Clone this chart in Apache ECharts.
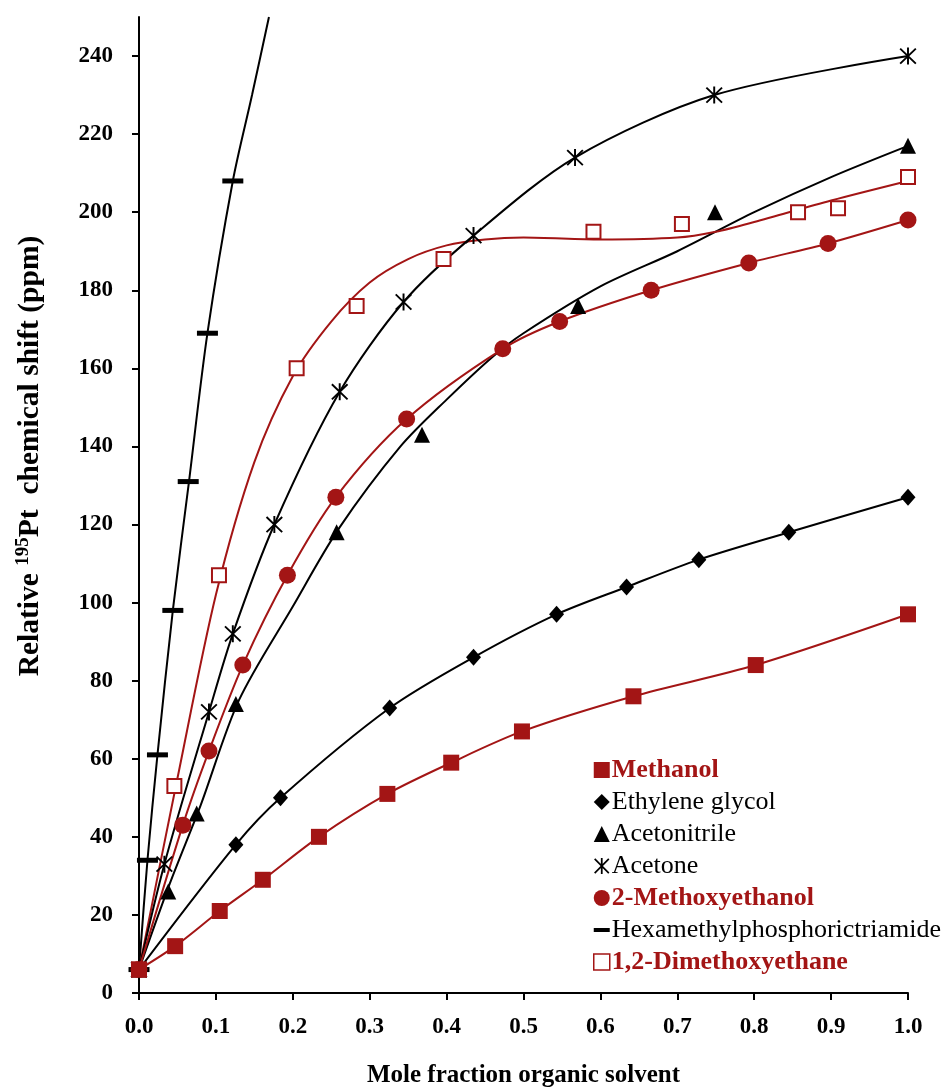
<!DOCTYPE html>
<html>
<head>
<meta charset="utf-8">
<script src="https://cdn.jsdelivr.net/npm/echarts@6/dist/echarts.min.js"></script>
<style>
html,body{margin:0;padding:0;background:#fff;}
#chart{width:951px;height:1088px;}
</style>
</head>
<body>
<div id="chart"></div>
<script>
// ---- data ----
const xTicks = [0, 0.1, 0.2, 0.3, 0.4, 0.5, 0.6, 0.7, 0.8, 0.9, 1.0];
const yTicks = [0, 20, 40, 60, 80, 100, 120, 140, 160, 180, 200, 220, 240];

const methanolX = [0, 0.047, 0.105, 0.161, 0.234, 0.323, 0.406, 0.498, 0.643, 0.802, 1.0];
const methanolY = [6, 12, 21, 29, 40, 51, 59, 67, 76, 84, 97];

const glycolX = [0, 0.126, 0.184, 0.326, 0.435, 0.543, 0.634, 0.728, 0.845, 1.0];
const glycolY = [6, 38, 50, 73, 86, 97, 104, 111, 118, 127];

const acetonitrileX = [0, 0.038, 0.075, 0.126, 0.257, 0.368, 0.571, 0.749, 1.0];
const acetonitrileY = [6, 26, 46, 74, 118, 143, 176, 200, 217];
const acetonitrileFitX = [0, 0.04, 0.08, 0.13, 0.2, 0.26, 0.34, 0.4, 0.46, 0.5, 0.6, 0.7, 0.8, 0.9, 1.0];
const acetonitrileFitY = [6, 28, 48, 75, 99, 119, 140, 152, 163, 169, 181, 190, 200, 209, 217];

const acetoneX = [0, 0.033, 0.091, 0.122, 0.176, 0.261, 0.344, 0.435, 0.567, 0.748, 1.0];
const acetoneY = [6, 33, 72, 92, 120, 154, 177, 194, 214, 230, 240];

const methoxyX = [0, 0.057, 0.091, 0.135, 0.193, 0.256, 0.348, 0.473, 0.547, 0.666, 0.793, 0.896, 1.0];
const methoxyY = [6, 43, 62, 84, 107, 127, 147, 165, 172, 180, 187, 192, 198];

const hmpaX = [0, 0.011, 0.024, 0.044, 0.064, 0.089, 0.122];
const hmpaY = [6, 34, 61, 98, 131, 169, 208];
const hmpaFitX = [0, 0.011, 0.024, 0.044, 0.065, 0.089, 0.122, 0.147, 0.169];
const hmpaFitY = [6, 34, 61, 98, 131, 169, 208, 230, 250];

const dmeX = [0, 0.046, 0.104, 0.205, 0.283, 0.396, 0.591, 0.706, 0.857, 0.909, 1.0];
const dmeY = [6, 53, 107, 160, 176, 188, 195, 197, 200, 201, 209];
const dmeFitX = [0, 0.05, 0.1, 0.15, 0.2, 0.25, 0.3, 0.35, 0.4, 0.45, 0.5, 0.6, 0.7, 0.75, 0.8, 0.9, 1.0];
const dmeFitY = [6, 55, 102, 136, 158, 172, 182, 188, 191.5, 193, 193.5, 193, 193.5, 195, 197.5, 203, 208];

// ---- styling ----
const RED = '#a31515';
const BLACK = '#000';
const FONT = 'Liberation Serif';
const ASTERISK = 'path://M8.9,0 L11.1,0 L11.1,20 L8.9,20 Z M0.4,1.9 L1.9,0.4 L19.6,18.1 L18.1,19.6 Z M18.1,0.4 L19.6,1.9 L1.9,19.6 L0.4,18.1 Z';
const DASH = 'path://M0,0 L20,0 L20,5 L0,5 Z';

const pts = (xs, ys) => xs.map((x, i) => [x, ys[i]]);

const chart = echarts.init(document.getElementById('chart'), null, {renderer: 'canvas'});

const legendText = (red) => red
  ? {color: RED, fontWeight: 'bold', fontFamily: FONT, fontSize: 26}
  : {color: '#000', fontWeight: 'normal', fontFamily: FONT, fontSize: 26};

const option = {
  backgroundColor: '#fff',
  animation: false,
  grid: {left: 139, right: 43, top: 17, bottom: 95, containLabel: false, outerBoundsMode: 'none'},
  xAxis: {
    type: 'value', min: 0, max: 1, interval: 0.1,
    name: 'Mole fraction organic solvent',
    nameLocation: 'middle', nameGap: 70,
    nameTextStyle: {fontFamily: FONT, fontWeight: 'bold', fontSize: 25, color: '#000'},
    axisLine: {show: true, lineStyle: {color: '#000', width: 2}},
    axisTick: {show: true, inside: false, length: 7, lineStyle: {color: '#000', width: 2}, customValues: xTicks},
    axisLabel: {fontFamily: FONT, fontWeight: 'bold', fontSize: 23, color: '#000', margin: 23,
      customValues: xTicks, formatter: v => v.toFixed(1)},
    splitLine: {show: false}
  },
  yAxis: {
    type: 'value', min: 0, max: 250,
    axisLine: {show: true, lineStyle: {color: '#000', width: 2}},
    axisTick: {show: true, inside: false, length: 7, lineStyle: {color: '#000', width: 2}, customValues: yTicks},
    axisLabel: {fontFamily: FONT, fontWeight: 'bold', fontSize: 23, color: '#000', margin: 26,
      customValues: yTicks},
    splitLine: {show: false}
  },
  graphic: [{
    type: 'text', x: 30, y: 456, rotation: Math.PI / 2,
    style: {
      text: '{b|Relative }{s|195}{b|Pt  chemical shift (ppm)}',
      align: 'center', verticalAlign: 'middle',
      rich: {
        b: {fontFamily: FONT, fontWeight: 'bold', fontSize: 29.5, fill: '#000', lineHeight: 34},
        s: {fontFamily: FONT, fontWeight: 'bold', fontSize: 19, fill: '#000', lineHeight: 34, padding: [0, 0, 13, 0]}
      }
    }
  }],
  legend: {
    orient: 'vertical', left: 588, top: 752,
    itemWidth: 16, itemHeight: 16, itemGap: 6,
    selectedMode: false,
    textStyle: {fontFamily: FONT, fontSize: 26, color: '#000', padding: [0, 0, 0, -3]},
    data: [
      {name: 'Methanol', icon: 'rect', itemStyle: {color: RED, borderWidth: 0, opacity: 1}, textStyle: legendText(true)},
      {name: 'Ethylene glycol', icon: 'diamond', itemStyle: {color: BLACK, borderWidth: 0, opacity: 1}, textStyle: legendText(false)},
      {name: 'Acetonitrile', icon: 'triangle', itemStyle: {color: BLACK, borderWidth: 0, opacity: 1}, textStyle: legendText(false)},
      {name: 'Acetone', icon: ASTERISK, itemStyle: {color: BLACK, borderWidth: 0, opacity: 1}, textStyle: legendText(false)},
      {name: '2-Methoxyethanol', icon: 'circle', itemStyle: {color: RED, borderWidth: 0, opacity: 1}, textStyle: legendText(true)},
      {name: 'Hexamethylphosphorictriamide', icon: DASH, itemStyle: {color: BLACK, borderWidth: 0, opacity: 1}, textStyle: legendText(false)},
      {name: '1,2-Dimethoxyethane', icon: 'rect', itemStyle: {color: '#fff', borderColor: RED, borderWidth: 1.5, opacity: 1}, textStyle: legendText(true)}
    ]
  },
  series: [
    {
      name: 'Hexamethylphosphorictriamide fit', type: 'line', data: pts(hmpaFitX, hmpaFitY),
      smooth: 0.3, showSymbol: false, symbol: 'none',
      lineStyle: {color: BLACK, width: 2}, z: 2
    },
    {
      name: 'Hexamethylphosphorictriamide', type: 'scatter', data: pts(hmpaX, hmpaY),
      symbol: DASH, symbolSize: [21, 5], itemStyle: {color: BLACK, opacity: 1}, z: 3
    },
    {
      name: 'Acetonitrile fit', type: 'line', data: pts(acetonitrileFitX, acetonitrileFitY),
      smooth: 0.3, showSymbol: false, symbol: 'none',
      lineStyle: {color: BLACK, width: 2}, z: 2
    },
    {
      name: 'Acetonitrile', type: 'scatter', data: pts(acetonitrileX, acetonitrileY),
      symbol: 'triangle', symbolSize: 16, itemStyle: {color: BLACK, opacity: 1}, z: 3
    },
    {
      name: '1,2-Dimethoxyethane fit', type: 'line', data: pts(dmeFitX, dmeFitY),
      smooth: 0.3, showSymbol: false, symbol: 'none',
      lineStyle: {color: RED, width: 2}, z: 2
    },
    {
      name: '1,2-Dimethoxyethane', type: 'scatter', data: pts(dmeX, dmeY),
      symbol: 'rect', symbolSize: 14, itemStyle: {color: '#fff', borderColor: RED, borderWidth: 2, opacity: 1}, z: 3
    },
    {
      name: 'Acetone', type: 'line', data: pts(acetoneX, acetoneY),
      smooth: 0.3, symbol: ASTERISK, symbolSize: 17, showSymbol: true,
      lineStyle: {color: BLACK, width: 2}, itemStyle: {color: BLACK}, z: 3
    },
    {
      name: '2-Methoxyethanol', type: 'line', data: pts(methoxyX, methoxyY),
      smooth: 0.3, symbol: 'circle', symbolSize: 17, showSymbol: true,
      lineStyle: {color: RED, width: 2}, itemStyle: {color: RED}, z: 3
    },
    {
      name: 'Ethylene glycol', type: 'line', data: pts(glycolX, glycolY),
      smooth: 0.3, symbol: 'diamond', symbolSize: [15, 17], showSymbol: true,
      lineStyle: {color: BLACK, width: 2}, itemStyle: {color: BLACK}, z: 3
    },
    {
      name: 'Methanol', type: 'line', data: pts(methanolX, methanolY),
      smooth: 0.3, symbol: 'rect', symbolSize: 16, showSymbol: true,
      lineStyle: {color: RED, width: 2}, itemStyle: {color: RED}, z: 3
    }
  ]
};
chart.setOption(option);
</script>
</body>
</html>
